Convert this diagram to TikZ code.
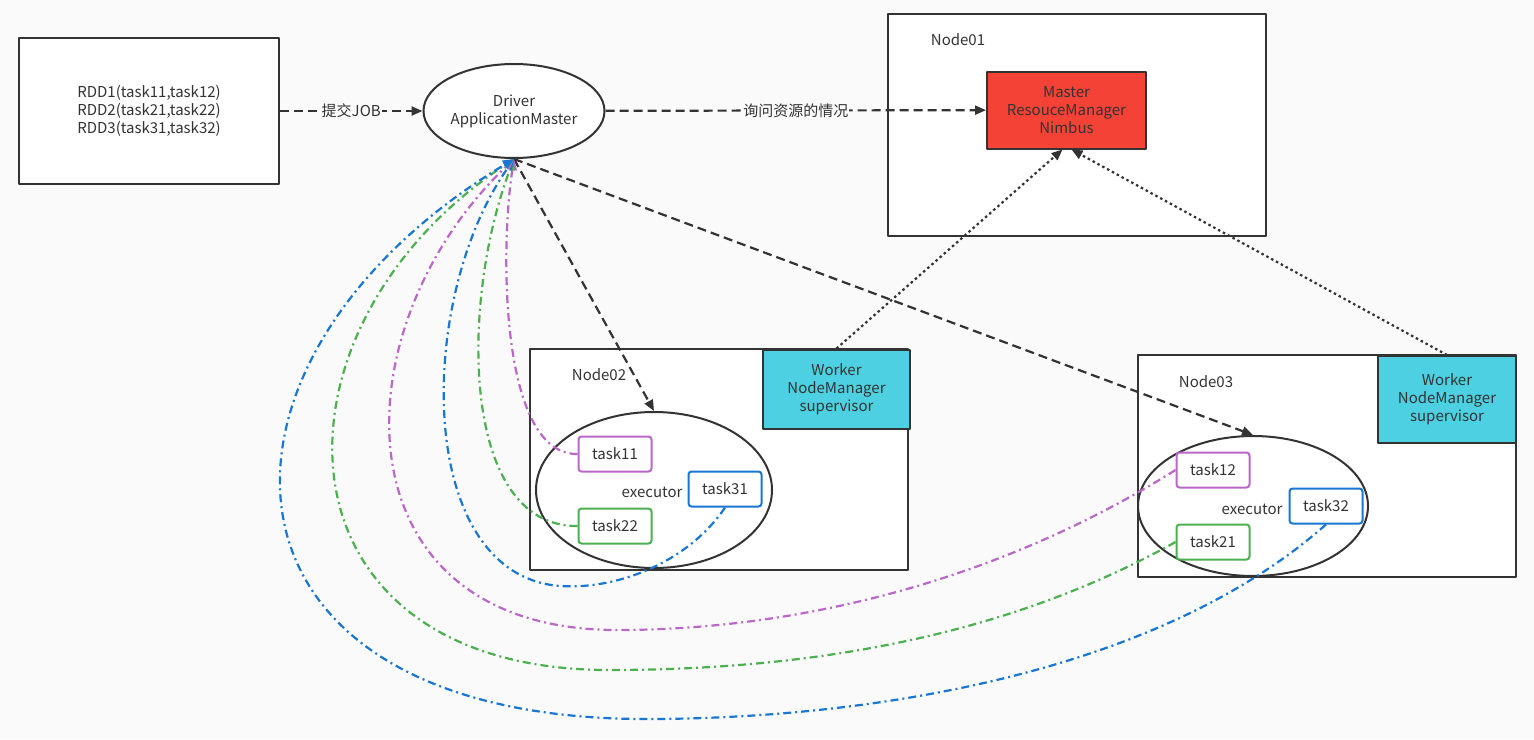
\documentclass[tikz,border=0pt]{standalone}
\usepackage{fontspec}
\setmainfont{Noto Sans CJK SC}
\usetikzlibrary{arrows.meta,shapes.geometric}
\definecolor{bgcol}{HTML}{FAFAFA}
\definecolor{edge}{HTML}{333333}
\definecolor{mastercol}{HTML}{F44336}
\definecolor{workercol}{HTML}{4DD0E1}
\definecolor{purplecol}{HTML}{BA68C8}
\definecolor{greencol}{HTML}{4CAF50}
\definecolor{bluecol}{HTML}{1976D2}
\tikzset{
  box/.style={draw=edge,line width=2pt,fill=white,inner sep=0pt,align=center},
  exec/.style={ellipse,draw=edge,line width=2pt,fill=white,inner sep=0pt},
  taskbox/.style={draw=#1,line width=2pt,fill=white,rounded corners=3pt,minimum width=73,minimum height=35,inner sep=0pt},
  dashline/.style={->,draw=edge,line width=2.2pt,dash pattern=on 9pt off 5pt},
  dotline/.style={->,draw=edge,line width=2.2pt,dash pattern=on 2.5pt off 3pt},
  reply/.style={->,draw=#1,line width=2.2pt,dash pattern=on 8pt off 4pt on 2pt off 4pt}
}
\begin{document}
\begin{tikzpicture}[x=1pt,y=-1pt,>={Triangle[length=11pt,width=9pt]},line join=round,
    font=\fontsize{15}{18}\selectfont,text=edge]
  \fill[bgcol] (0,0) rectangle (1534,739);
  \useasboundingbox (0,0) rectangle (1534,739);
  % boxes
  \node[box,minimum width=260,minimum height=146] (rdd) at (149,111)
    {RDD1(task11,task12)\\RDD2(task21,task22)\\RDD3(task31,task32)};
  \node[exec,minimum width=181,minimum height=94,align=center] (driver) at (514,111)
    {Driver\\ApplicationMaster};
  \node[box,minimum width=378,minimum height=222] (node01) at (1077,125) {};
  \node (lab01) at (958,40) {Node01};
  \node[box,fill=mastercol,minimum width=159,minimum height=77] (master) at (1066.5,110)
    {Master\\ResouceManager\\Nimbus};
  \node[box,minimum width=378,minimum height=221] (node02) at (719,459.5) {};
  \node (lab02) at (599,375) {Node02};
  \node[box,fill=workercol,minimum width=147,minimum height=79] (worker02) at (836.5,389)
    {Worker\\NodeManager\\supervisor};
  \node[box,minimum width=378,minimum height=222] (node03) at (1327,466) {};
  \node (lab03) at (1206,382) {Node03};
  \node[box,fill=workercol,minimum width=138,minimum height=87] (worker03) at (1447,399.5)
    {Worker\\NodeManager\\supervisor};
  % executors
  \node[exec,minimum width=236,minimum height=156] (exec02) at (654,490) {};
  \node[anchor=east] (elab02) at (686,492) {executor};
  \node[taskbox=purplecol] (task11) at (615,454) {task11};
  \node[taskbox=greencol] (task22) at (615,526) {task22};
  \node[taskbox=bluecol] (task31) at (725,489) {task31};
  \node[exec,minimum width=230,minimum height=140] (exec03) at (1253,506) {};
  \node[anchor=east] (elab03) at (1286,509) {executor};
  \node[taskbox=purplecol] (task12) at (1213,470) {task12};
  \node[taskbox=greencol] (task21) at (1213,542) {task21};
  \node[taskbox=bluecol] (task32) at (1326,506) {task32};
  % arrows
  \draw[dashline] (rdd) -- node[fill=bgcol,inner sep=1pt] {提交JOB} (driver);
  \draw[dashline] (driver) -- node[fill=bgcol,inner sep=1pt] {询问资源的情况} (master);
  \draw[dashline] (driver.south) -- (exec02.north);
  \draw[dashline] (driver.south) -- (exec03.north);
  \draw[dotline] (worker02.north) -- ([xshift=-4pt]master.south);
  \draw[dotline] (worker03.north) -- ([xshift=5pt]master.south);
  % replies
  \draw[reply=purplecol] (task11.west) .. controls (500,455) and (500,250) .. (driver.south);
  \draw[reply=greencol] (task22.west) .. controls (460,527) and (460,300) .. (driver.south);
  \draw[reply=bluecol] (task31.south) .. controls (690,560) and (620,590) .. (560,586)
    .. controls (415,575) and (415,300) .. (driver.south);
  \draw[reply=purplecol] (task12.west) .. controls (1000,580) and (800,630) .. (617,630)
    .. controls (335,630) and (335,330) .. (driver.south);
  \draw[reply=greencol] (task21.west) .. controls (1000,640) and (800,670) .. (609,670)
    .. controls (265,670) and (255,330) .. (driver.south);
  \draw[reply=bluecol] (task32.south) .. controls (1150,680) and (850,719) .. (646,719)
    .. controls (190,719) and (180,360) .. (driver.south);
\end{tikzpicture}
\end{document}
